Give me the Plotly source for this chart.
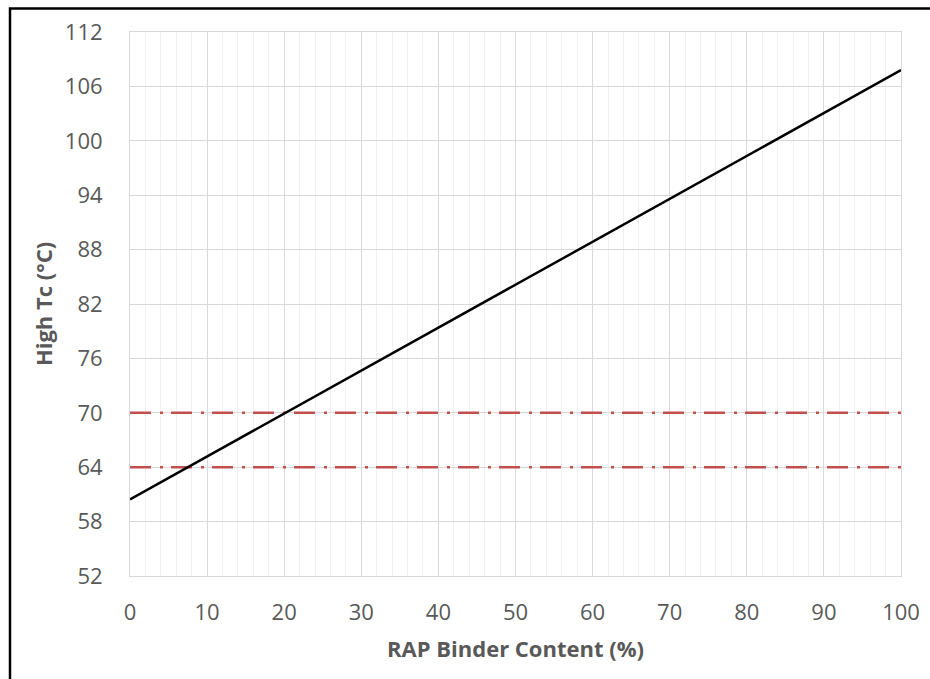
import plotly.graph_objects as go

# Data
rap_x = [0, 100]
high_tc = [60.45, 107.8]
pg_limits = [64, 70]
limit_x = [0, 100]

x_ticks = [0, 10, 20, 30, 40, 50, 60, 70, 80, 90, 100]
y_ticks = [52, 58, 64, 70, 76, 82, 88, 94, 100, 106, 112]

W, H = 930, 679
L, R, T, B = 130, 29, 32, 103

fig = go.Figure()

for lim in pg_limits:
    fig.add_trace(go.Scatter(
        x=limit_x, y=[lim, lim], mode="lines",
        line=dict(color="#C0504D", width=2.5, dash="21px,9px,3px,8px"),
        showlegend=False, hoverinfo="skip"))

fig.add_trace(go.Scatter(
    x=rap_x, y=high_tc, mode="lines",
    line=dict(color="black", width=2.5),
    showlegend=False))

font_fam = "'Open Sans', sans-serif"
pw = W - L - R
ph = H - T - B

fig.update_layout(
    width=W, height=H,
    margin=dict(l=L, r=R, t=T, b=B, autoexpand=False),
    paper_bgcolor="white", plot_bgcolor="white",
    font=dict(family=font_fam, color="#595959"),
    xaxis=dict(
        range=[0, 100], tickvals=x_ticks, ticks="", automargin=False,
        showgrid=True, gridcolor="#D9D9D9", gridwidth=1,
        minor=dict(dtick=2, showgrid=True, gridcolor="#F0F0F0", gridwidth=1),
        showline=True, linecolor="#D9D9D9", linewidth=1, mirror=True,
        zeroline=False,
        tickfont=dict(size=22, color="#595959"),
        ticklabelstandoff=17,
        title=dict(text="<b>RAP Binder Content (%)</b>", font=dict(size=22, color="#595959"), standoff=16),
    ),
    yaxis=dict(
        range=[52, 112], tickvals=y_ticks, ticks="", automargin=False,
        showgrid=True, gridcolor="#D9D9D9", gridwidth=1,
        showline=True, linecolor="#D9D9D9", linewidth=1, mirror=True,
        zeroline=False,
        tickfont=dict(size=22, color="#595959"),
        ticklabelstandoff=22,
        title=dict(text="<b>High Tc (°C)</b>", font=dict(size=22, color="#595959"), standoff=6),
    ),
    shapes=[dict(
        type="rect", xref="paper", yref="paper",
        x0=(10 - L) / pw, x1=(940 - L) / pw,
        y0=(H - B - 690) / ph, y1=(H - B - 8.5) / ph,
        line=dict(color="black", width=2.5), fillcolor="rgba(0,0,0,0)", layer="above")],
)

fig.write_html("out.html")
